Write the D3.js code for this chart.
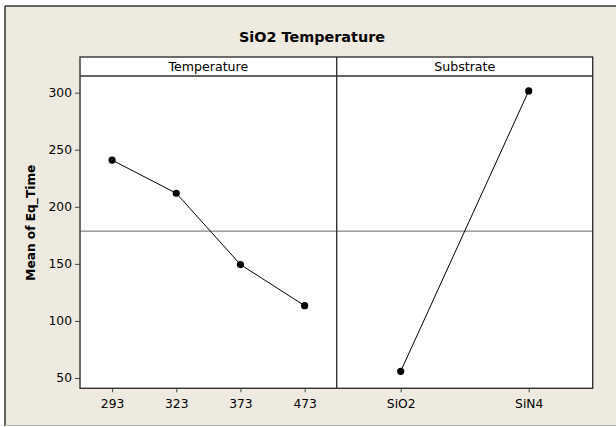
<!DOCTYPE html>
<html>
<head>
<meta charset="utf-8">
<script src="https://cdn.jsdelivr.net/npm/d3@7"></script>
<style>
  body { margin: 0; background: #fff; }
  svg { display: block; }
  text { font-family: "DejaVu Sans", Verdana, sans-serif; fill: #000; }
</style>
</head>
<body>
<div id="chart-div"></div>
<script>
var chartTitle = "SiO2 Temperature";
var yLabel = "Mean of Eq_Time";
var panelNames = ["Temperature", "Substrate"];
var tempLevels = ["293", "323", "373", "473"];
var tempMeans = [240.9, 211.9, 149.4, 113.4];
var substrateLevels = ["SiO2", "SiN4"];
var substrateMeans = [55.9, 301.5];
var yTicks = [50, 100, 150, 200, 250, 300];

var props = {
  width: 616,
  height: 427,
  left: 80,
  split: 336.7,
  right: 592.7,
  stripTop: 57,
  stripBottom: 76,
  bottom: 388.3
};

var svg = d3.select("#chart-div").append("svg").attr("width", props.width).attr("height", props.height);

// beige background with frame
svg.append("rect").attr("x", 5).attr("y", 6).attr("width", 620).attr("height", 420)
  .style("fill", "#eeeae0").style("stroke", "none");
svg.append("line").attr("x1", 5).attr("x2", 616).attr("y1", 6).attr("y2", 6).style("stroke", "#333").style("stroke-width", 1.5);
svg.append("line").attr("x1", 5).attr("x2", 5).attr("y1", 6).attr("y2", 426).style("stroke", "#333").style("stroke-width", 1.5);
svg.append("line").attr("x1", 5).attr("x2", 616).attr("y1", 425.5).attr("y2", 425.5).style("stroke", "#b8b5ad").style("stroke-width", 1);

svg.append("text").attr("x", 312).attr("y", 42).attr("text-anchor", "middle")
  .style("font-size", "14.4px").style("font-weight", "bold").text(chartTitle);

var y = d3.scaleLinear().domain([41, 314.6]).range([props.bottom, props.stripBottom]);
var x1 = d3.scalePoint().domain(tempLevels).range([props.left, props.split]).padding(0.5);
var x2 = d3.scalePoint().domain(substrateLevels).range([props.split, props.right]).padding(0.5);

// plot area + strips
svg.append("rect").attr("x", props.left).attr("y", props.stripTop)
  .attr("width", props.right - props.left).attr("height", props.bottom - props.stripTop)
  .style("fill", "#fff").style("stroke", "none");

// reference line at grand mean
var grandMean = d3.mean(substrateMeans);
svg.append("line").attr("x1", props.left).attr("x2", props.right)
  .attr("y1", y(grandMean)).attr("y2", y(grandMean))
  .style("stroke", "#666").style("stroke-width", 1);

var panels = [
  {name: panelNames[0], x: x1, levels: tempLevels, means: tempMeans, x0: props.left, x1: props.split},
  {name: panelNames[1], x: x2, levels: substrateLevels, means: substrateMeans, x0: props.split, x1: props.right}
];

var lineGenerator = d3.line().x(function(d){return d.x;}).y(function(d){return y(d.v);});

panels.forEach(function(p){
  var pts = p.levels.map(function(l, i){return {x: p.x(l), v: p.means[i]};});
  svg.append("path").attr("d", lineGenerator(pts))
    .style("fill", "none").style("stroke", "#000").style("stroke-width", 1);
  svg.selectAll(null).data(pts).enter().append("circle")
    .attr("cx", function(d){return d.x;}).attr("cy", function(d){return y(d.v);})
    .attr("r", 3.6).style("fill", "#000");

  svg.append("text").attr("x", (p.x0 + p.x1) / 2).attr("y", 71).attr("text-anchor", "middle")
    .style("font-size", "12.6px").text(p.name);

  var ax = svg.append("g").attr("transform", "translate(0," + props.bottom + ")")
    .call(d3.axisBottom(p.x).tickSize(4).tickPadding(7));
  ax.select(".domain").remove();
  ax.selectAll("line").style("stroke", "#444");
  ax.selectAll("text").style("font-size", "12.3px").style("font-family", "DejaVu Sans, sans-serif");
});

// frames
svg.append("rect").attr("x", props.left).attr("y", props.stripTop)
  .attr("width", props.right - props.left).attr("height", props.bottom - props.stripTop)
  .style("fill", "none").style("stroke", "#333").style("stroke-width", 1.4);
svg.append("line").attr("x1", props.left).attr("x2", props.right)
  .attr("y1", props.stripBottom).attr("y2", props.stripBottom)
  .style("stroke", "#333").style("stroke-width", 1.4);
svg.append("line").attr("x1", props.split).attr("x2", props.split)
  .attr("y1", props.stripTop).attr("y2", props.bottom)
  .style("stroke", "#333").style("stroke-width", 1.4);

var ay = svg.append("g").attr("transform", "translate(" + props.left + ",0)")
  .call(d3.axisLeft(y).tickValues(yTicks).tickSize(5).tickPadding(3));
ay.select(".domain").remove();
ay.selectAll("line").style("stroke", "#444");
ay.selectAll("text").style("font-size", "12.3px").style("font-family", "DejaVu Sans, sans-serif");

svg.append("text").attr("transform", "translate(35," + ((props.stripTop + props.bottom) / 2) + ") rotate(-90)")
  .attr("text-anchor", "middle").style("font-size", "12.2px").style("font-weight", "bold").text(yLabel);
</script>
</body>
</html>
